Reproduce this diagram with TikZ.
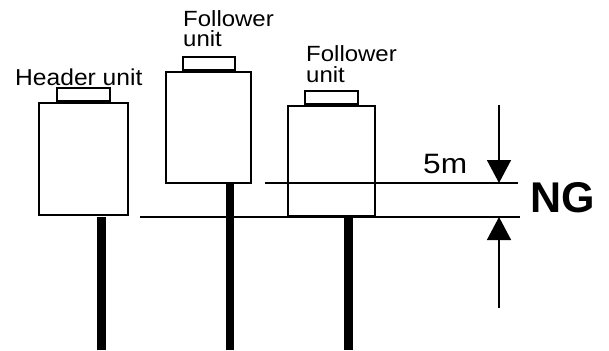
\documentclass[tikz,border=0pt]{standalone}
\usepackage{fontspec}
\setmainfont{Liberation Sans}
\usetikzlibrary{arrows.meta}
\begin{document}
\begin{tikzpicture}[x=1pt,y=-1pt,
  unitbox/.style={draw,line width=2pt,fill=white,inner sep=0pt},
  pole/.style={fill=black,draw=none},
  ref/.style={line width=2pt},
  dimline/.style={line width=1.5pt,-{Triangle[width=24pt,length=23pt]}},
  lbl/.style={inner sep=0pt,anchor=base west}]
\useasboundingbox (0,0) rectangle (609,350);
% reference lines
\coordinate (l1a) at (140,217); \coordinate (l1b) at (520,217);
\coordinate (l2a) at (265,183); \coordinate (l2b) at (518,183);
% poles
\fill[pole] (97,217) rectangle (106,350);
\fill[pole] (226,183) rectangle (234,350);
\fill[pole] (344,217) rectangle (353,350);
% units
\node[unitbox,minimum width=89pt,minimum height=112pt] (b1) at (83.5,159) {};
\node[unitbox,minimum width=53pt,minimum height=13pt,anchor=south] (c1) at (b1.north) {};
\node[unitbox,minimum width=85pt,minimum height=111pt] (b2) at (208.5,127.5) {};
\node[unitbox,minimum width=52pt,minimum height=13pt,anchor=south] (c2) at (b2.north) {};
\node[unitbox,minimum width=87pt,minimum height=110pt] (b3) at (331.5,161) {};
\node[unitbox,minimum width=53pt,minimum height=13pt,anchor=south] (c3) at (b3.north) {};
\draw[ref] (l2a) -- (l2b);
\draw[ref] (l1a) -- (l1b);
% dimension arrows
\coordinate (dtop) at (499,105);
\coordinate (dup) at (499,183);
\coordinate (dlo) at (499,217);
\coordinate (dbot) at (499,308);
\draw[dimline] (dtop) -- (dup);
\draw[dimline] (dbot) -- (dlo);
% labels
\node[lbl] (th) at (15,86) {\fontsize{23}{23}\selectfont\scalebox{1.07}[1]{Header unit}};
\node[lbl] (t2a) at (183,27) {\fontsize{22}{22}\selectfont\scalebox{1.09}[1]{Follower}};
\node[lbl] (t2b) at (183,47) {\fontsize{22}{22}\selectfont\scalebox{1.09}[1]{unit}};
\node[lbl] (t3a) at (306,62) {\fontsize{22}{22}\selectfont\scalebox{1.09}[1]{Follower}};
\node[lbl] (t3b) at (306,83) {\fontsize{22}{22}\selectfont\scalebox{1.09}[1]{unit}};
\node[lbl] (t5m) at (423,173) {\fontsize{28}{28}\selectfont\scalebox{1.13}[1]{5m}};
\node[lbl] (tng) at (530,212) {\fontsize{43}{43}\selectfont\bfseries NG};
\end{tikzpicture}
\end{document}
